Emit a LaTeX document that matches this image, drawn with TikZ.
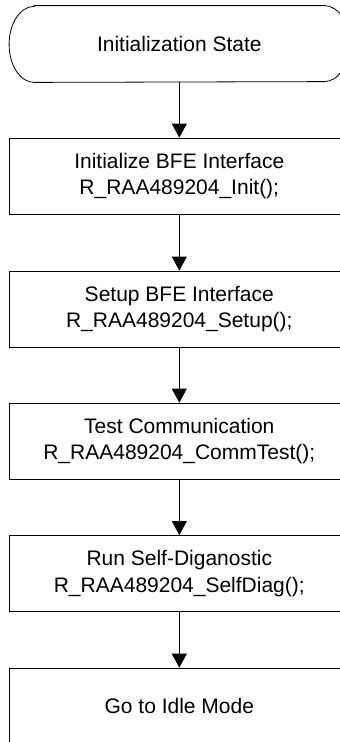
\documentclass[tikz,border=0pt]{standalone}
\usepackage{fontspec}
\setmainfont{Liberation Sans}
\usetikzlibrary{arrows.meta}
\begin{document}
\begin{tikzpicture}[x=1pt,y=-1pt]
	\tikzstyle{stepbox}=[rectangle,draw=black,line width=0.8pt,minimum width=339.6pt,minimum height=76pt,align=center,inner sep=0pt,font=\fontsize{21}{26.5}\selectfont]
	\tikzstyle{terminal}=[stepbox,draw=none]
	\tikzstyle{edge}=[draw, line width=0.8pt, -{Triangle[width=15pt,length=14pt]}]
	\clip (0,0) rectangle (340,742);
	\begin{scope}
		\node [terminal] (init) at (179.3,44) {Initialization State};
		\node [stepbox] (bfeinit) at (179.3,176) {Initialize BFE Interface\\R\_RAA489204\_Init();};
		\node [stepbox] (setup) at (179.3,309) {Setup BFE Interface\\R\_RAA489204\_Setup();};
		\node [stepbox] (comm) at (179.3,441) {Test Communication\\R\_RAA489204\_CommTest();};
		\node [stepbox] (diag) at (179.3,573.5) {Run Self-Diganostic\\R\_RAA489204\_SelfDiag();};
		\node [stepbox] (idle) at (179.3,706) {Go to Idle Mode};
		% terminator outline
		\draw[line width=0.8pt] ([xshift=25pt]init.north west) -- ([xshift=-25pt]init.north east)
			arc[start angle=90,end angle=-90,x radius=25pt,y radius=38pt]
			-- ([xshift=25pt]init.south west)
			arc[start angle=270,end angle=90,x radius=25pt,y radius=38pt] -- cycle;
		\path[edge] (init) edge (bfeinit);
		\path[edge] (bfeinit) edge (setup);
		\path[edge] (setup) edge (comm);
		\path[edge] (comm) edge (diag);
		\path[edge] (diag) edge (idle);
	\end{scope}
\end{tikzpicture}
\end{document}
